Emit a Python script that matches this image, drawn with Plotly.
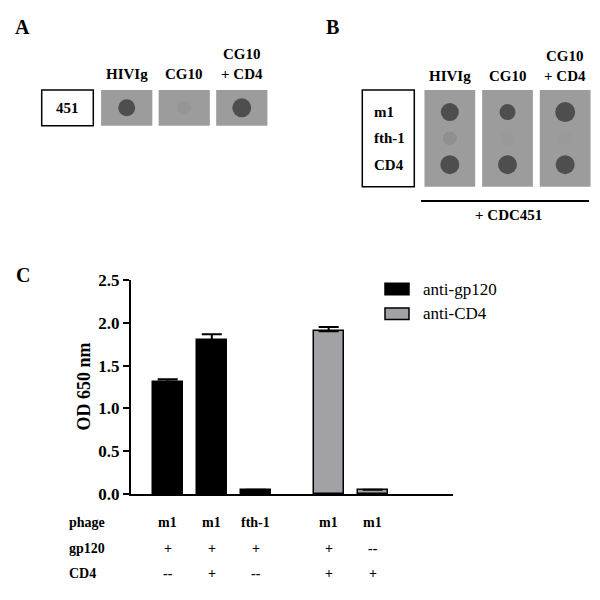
import plotly.graph_objects as go

# ---------------- data ----------------
series_names = ["anti-gp120", "anti-CD4"]
gp120_values = [1.31, 1.80, 0.05]
gp120_errors = [0.03, 0.065, 0.0]
cd4_values = [1.90, 0.05]
cd4_errors = [0.05, 0.0]
bar_positions_gp120 = [1, 2, 3]
bar_positions_cd4 = [4.65, 5.65]
y_ticks = [0.0, 0.5, 1.0, 1.5, 2.0, 2.5]

table_row_labels = ["phage", "gp120", "CD4"]
table_phage = ["m1", "m1", "fth-1", "m1", "m1"]
table_gp120 = ["+", "+", "+", "+", "--"]
table_cd4 = ["--", "+", "--", "+", "+"]

blot_columns = ["HIVIg", "CG10", "CG10<br>+ CD4"]
blot_a_row = ["451"]
blot_a_signal = [1.0, 0.08, 1.0]
blot_a_size = [17, 14, 19]
blot_b_rows = ["m1", "fth-1", "CD4"]
blot_b_signal = [[1.0, 1.0, 1.0], [0.16, 0.03, 0.02], [1.0, 1.0, 1.0]]
blot_b_size = [[18, 16, 20], [14, 14, 14], [19, 19, 19]]
blot_b_caption = "+ CDC451"

# ---------------- helpers ----------------
W = H = 600
FONT = "Liberation Serif"
def px(x):
    return x / W
def py(y):
    return 1 - y / H

BLACK = "#000000"
GRAY_BAR = "#a2a1a6"
BLOT_BG = "#9c9c9c"
DOT_SCALE = [[0, BLOT_BG], [1, "#2e2e2e"]]

fig = go.Figure()

fig.add_trace(go.Bar(
    x=bar_positions_gp120, y=gp120_values, name=series_names[0],
    marker=dict(color=BLACK, line=dict(color=BLACK, width=1.5)),
    width=0.68,
    error_y=dict(type="data", array=gp120_errors, arrayminus=[0]*len(gp120_errors),
                 symmetric=False, color=BLACK, thickness=2, width=10),
    xaxis="x", yaxis="y", showlegend=False,
))
fig.add_trace(go.Bar(
    x=bar_positions_cd4, y=cd4_values, name=series_names[1],
    marker=dict(color=GRAY_BAR, line=dict(color=BLACK, width=1.5)),
    width=0.68,
    error_y=dict(type="data", array=cd4_errors, arrayminus=[0]*len(cd4_errors),
                 symmetric=False, color=BLACK, thickness=2, width=10),
    xaxis="x", yaxis="y", showlegend=False,
))

a_x = list(range(len(blot_columns)))
fig.add_trace(go.Scatter(
    x=a_x, y=[0] * len(a_x), mode="markers",
    marker=dict(size=blot_a_size, color=blot_a_signal, colorscale=DOT_SCALE,
                cmin=0, cmax=1, line=dict(width=0)),
    xaxis="x2", yaxis="y2", showlegend=False, hoverinfo="skip",
))

bx, by, bs, bc = [], [], [], []
for r, row in enumerate(blot_b_rows):
    for c in range(len(blot_columns)):
        bx.append(c)
        by.append(r)
        bs.append(blot_b_size[r][c])
        bc.append(blot_b_signal[r][c])
fig.add_trace(go.Scatter(
    x=bx, y=by, mode="markers",
    marker=dict(size=bs, color=bc, colorscale=DOT_SCALE, cmin=0, cmax=1, line=dict(width=0)),
    xaxis="x3", yaxis="y3", showlegend=False, hoverinfo="skip",
))

shapes = []
annotations = []

for i in range(len(blot_columns)):
    shapes.append(dict(type="rect", xref="x2", yref="y2 domain", x0=i - 0.445, x1=i + 0.445,
                       y0=0, y1=1, fillcolor=BLOT_BG, line=dict(width=0), layer="below"))
    shapes.append(dict(type="rect", xref="x3", yref="y3 domain", x0=i - 0.44, x1=i + 0.44,
                       y0=0, y1=1, fillcolor=BLOT_BG, line=dict(width=0), layer="below"))
    annotations.append(dict(xref="x2", yref="paper", x=i, y=py(84), xanchor="center", yanchor="bottom",
                            text="<b>" + blot_columns[i] + "</b>", showarrow=False,
                            font=dict(family=FONT, size=15, color=BLACK)))
    annotations.append(dict(xref="x3", yref="paper", x=i, y=py(86), xanchor="center", yanchor="bottom",
                            text="<b>" + blot_columns[i] + "</b>", showarrow=False,
                            font=dict(family=FONT, size=15, color=BLACK)))

shapes.append(dict(type="rect", xref="paper", yref="paper", x0=px(41.7), x1=px(93.3),
                   y0=py(125.7), y1=py(90), line=dict(color=BLACK, width=1.5)))
annotations.append(dict(xref="paper", yref="y2", x=px(67.5), y=0, text="<b>" + blot_a_row[0] + "</b>",
                        showarrow=False, xanchor="center", font=dict(family=FONT, size=15, color=BLACK)))
shapes.append(dict(type="rect", xref="paper", yref="paper", x0=px(362.3), x1=px(414.3),
                   y0=py(186.7), y1=py(90), line=dict(color=BLACK, width=1.5)))
for r, row in enumerate(blot_b_rows):
    annotations.append(dict(xref="paper", yref="y3", x=px(372), y=r, text="<b>" + row + "</b>",
                            showarrow=False, xanchor="left", font=dict(family=FONT, size=15, color=BLACK)))

shapes.append(dict(type="line", xref="paper", yref="paper", x0=px(421), x1=px(589),
                   y0=py(201), y1=py(201), line=dict(color=BLACK, width=2)))
annotations.append(dict(xref="paper", yref="paper", x=px(508), y=py(215.5), text="<b>" + blot_b_caption + "</b>",
                        showarrow=False, xanchor="center", yanchor="middle",
                        font=dict(family=FONT, size=15, color=BLACK)))

for letter, (lx, ly) in zip(["A", "B", "C"], [(22, 27), (332, 27), (23, 275)]):
    annotations.append(dict(xref="paper", yref="paper", x=px(lx), y=py(ly), text="<b>" + letter + "</b>",
                            showarrow=False, xanchor="center", yanchor="middle",
                            font=dict(family=FONT, size=20, color=BLACK)))

annotations.append(dict(xref="paper", yref="paper", x=px(83), y=py(386.5), text="<b>OD 650 nm</b>",
                        textangle=-90, showarrow=False, xanchor="center", yanchor="middle",
                        font=dict(family=FONT, size=18, color=BLACK)))

legend_rows = [(289, BLACK), (313.7, GRAY_BAR)]
for name, (ly, col) in zip(series_names, legend_rows):
    shapes.append(dict(type="rect", xref="paper", yref="paper", x0=px(385), x1=px(409),
                       y0=py(ly + 5.8), y1=py(ly - 5.8), fillcolor=col, line=dict(color=BLACK, width=1.5)))
    annotations.append(dict(xref="paper", yref="paper", x=px(421), y=py(ly), text=name, showarrow=False,
                            xanchor="left", yanchor="middle", font=dict(family=FONT, size=17, color=BLACK)))

all_positions = bar_positions_gp120 + bar_positions_cd4
for label, vals, ty in zip(table_row_labels, [table_phage, table_gp120, table_cd4], [522.7, 548.3, 573.3]):
    annotations.append(dict(xref="paper", yref="paper", x=px(66.5), y=py(ty), text="<b>" + label + "</b>",
                            showarrow=False, xanchor="left", yanchor="middle",
                            font=dict(family=FONT, size=14, color=BLACK)))
    for xp, v in zip(all_positions, vals):
        annotations.append(dict(xref="x", yref="paper", x=xp, y=py(ty), text="<b>" + v + "</b>",
                                showarrow=False, xanchor="center", yanchor="middle",
                                font=dict(family=FONT, size=14, color=BLACK)))

fig.update_layout(
    template="none",
    width=W, height=H, autosize=False,
    margin=dict(l=0, r=0, t=0, b=0, pad=0),
    paper_bgcolor="white", plot_bgcolor="rgba(0,0,0,0)",
    font=dict(family=FONT, color=BLACK),
    showlegend=False,
    bargap=0,
    xaxis=dict(domain=[px(131), px(453)], range=[0.168, 7.47], showticklabels=False, ticks="",
               showgrid=False, zeroline=False, showline=True, linecolor=BLACK, linewidth=2,
               anchor="y", fixedrange=True, automargin=False),
    yaxis=dict(domain=[py(494), py(280)], range=[0, 2.5], tickvals=y_ticks, tickformat=".1f",
               ticks="outside", ticklen=6, tickwidth=2, tickcolor=BLACK,
               showgrid=False, zeroline=False, showline=True, linecolor=BLACK, linewidth=2,
               tickfont=dict(family=FONT, size=17, color=BLACK, weight="bold"),
               anchor="x", fixedrange=True, automargin=False),
    xaxis2=dict(domain=[px(97.95), px(270.55)], range=[-0.5, 2.5], visible=False, anchor="y2", fixedrange=True),
    yaxis2=dict(domain=[py(125.7), py(90)], range=[-0.5, 0.5], visible=False, anchor="x2", fixedrange=True),
    xaxis3=dict(domain=[px(421), px(594)], range=[-0.5, 2.5], visible=False, anchor="y3", fixedrange=True),
    yaxis3=dict(domain=[py(186.7), py(90)], range=[2.84, -0.84], visible=False, anchor="x3", fixedrange=True),
    shapes=shapes,
    annotations=annotations,
)

fig.write_html("out.html", config={"displayModeBar": False},
               post_script="document.body.style.margin='0';")
